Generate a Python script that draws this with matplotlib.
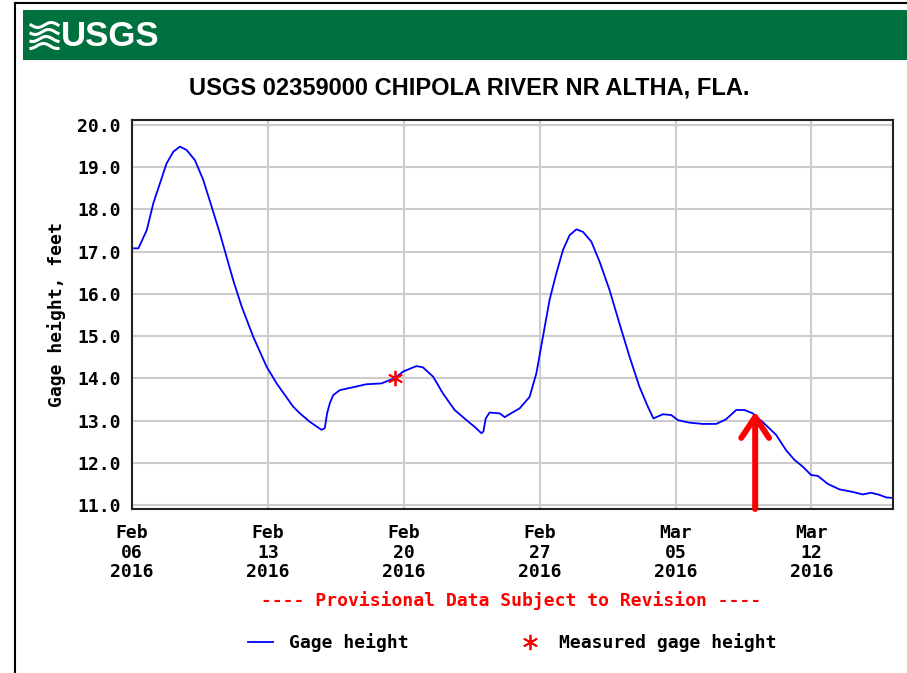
import numpy as np
import pandas as pd
import matplotlib
matplotlib.use("Agg")
import matplotlib.pyplot as plt
import matplotlib.dates as mdates
from matplotlib.lines import Line2D
from matplotlib.font_manager import FontProperties

# ---- Data ----
start = pd.Timestamp("2016-02-06")

days = [0.0, 0.33, 0.76, 1.1, 1.44, 1.78, 2.13, 2.47, 2.81, 3.24,
        3.67, 4.1, 4.53, 4.87, 5.21, 5.65, 6.24, 6.93, 7.45, 8.3,
        8.65, 9.16, 9.76, 9.93, 10.05, 10.19, 10.36, 10.7, 11.39, 12.07,
        12.85, 13.28, 13.54, 13.96, 14.65, 14.99, 15.51, 16.02, 16.62, 17.23,
        17.65, 18.0, 18.1, 18.22, 18.42, 18.94, 19.2, 19.37, 19.97, 20.48,
        20.83, 21.17, 21.51, 21.86, 22.2, 22.54, 22.89, 23.23, 23.66, 24.09,
        24.6, 25.11, 25.63, 26.14, 26.57, 26.86, 27.05, 27.35, 27.78, 28.12,
        28.72, 29.4, 30.09, 30.6, 31.12, 31.55, 31.98, 32.66, 33.18, 33.69,
        34.12, 34.55, 34.98, 35.32, 35.84, 36.44, 37.12, 37.64, 38.07, 38.5,
        38.84, 39.1]
gage_ft = [17.08, 17.08, 17.51, 18.15, 18.62, 19.09, 19.37, 19.49, 19.41, 19.17,
           18.70, 18.07, 17.43, 16.88, 16.33, 15.70, 14.99, 14.28, 13.88, 13.33,
           13.17, 12.97, 12.78, 12.82, 13.17, 13.41, 13.60, 13.72, 13.79, 13.86,
           13.88, 13.96, 14.00, 14.16, 14.29, 14.26, 14.04, 13.64, 13.25, 13.01,
           12.85, 12.70, 12.74, 13.05, 13.19, 13.17, 13.08, 13.13, 13.29, 13.56,
           14.12, 14.99, 15.86, 16.49, 17.04, 17.39, 17.53, 17.47, 17.24, 16.76,
           16.09, 15.30, 14.51, 13.80, 13.33, 13.05, 13.09, 13.15, 13.13, 13.01,
           12.95, 12.92, 12.92, 13.03, 13.25, 13.25, 13.17, 12.89, 12.66, 12.30,
           12.07, 11.91, 11.71, 11.69, 11.50, 11.37, 11.31, 11.25, 11.29, 11.24,
           11.18, 11.17]

measured_days = [13.54]
measured_ft = [14.00]

arrow_day = 32.1
arrow_ft = 13.21

tick_dates = ["2016-02-06", "2016-02-13", "2016-02-20",
              "2016-02-27", "2016-03-05", "2016-03-12"]
y_ticks = [11, 12, 13, 14, 15, 16, 17, 18, 19, 20]

t = start + pd.to_timedelta(days, unit="D")
t_meas = start + pd.to_timedelta(measured_days, unit="D")
t_arrow = start + pd.Timedelta(days=arrow_day)

# ---- Figure ----
W, H = 907, 673
fig = plt.figure(figsize=(W / 100, H / 100), dpi=100)
mono = {"family": "DejaVu Sans Mono", "weight": "bold", "size": 13}
mono_fp = FontProperties(**mono)

def fx(px):
    return px / W

def fy(py):
    return 1 - py / H

# outer frame lines (top and left)
fig.add_artist(Line2D([fx(15), 1], [fy(2.5), fy(2.5)], color="black", lw=1.5))
fig.add_artist(Line2D([fx(15), fx(15)], [fy(2.5), 0], color="black", lw=1.5))

# green USGS banner
fig.add_artist(plt.Rectangle((fx(23), fy(60)), 1 - fx(23), (60 - 10) / H,
                             facecolor="#00703f", edgecolor="none"))
fig.text(fx(61), fy(36), "USGS", color="white", fontsize=25, fontweight="bold",
         family="Liberation Sans", ha="left", va="center")
# wave mark of the logo
xs = np.linspace(31, 58, 30)
for k, off in enumerate([25, 32, 39, 46]):
    ys = off + 2.5 * np.sin((xs - 31) / 27 * 2 * np.pi + k * 0.6)
    fig.add_artist(Line2D(fx(xs), fy(ys), color="white", lw=2.2))

fig.text(fx(469), fy(88), "USGS 02359000 CHIPOLA RIVER NR ALTHA, FLA.",
         ha="center", va="center", fontsize=17, fontweight="bold",
         family="Liberation Sans")

ax = fig.add_axes([fx(132), fy(509), (893 - 132) / W, (509 - 120) / H])
ax.plot(t, gage_ft, color="#0000ff", lw=1.3, label="Gage height")
ax.plot(t_meas, measured_ft, linestyle="none", marker=(6, 2, 0), markersize=11,
        markeredgewidth=1.3, color="red", label="Measured gage height")

ax.annotate("", xy=(t_arrow, arrow_ft), xytext=(t_arrow, 10.905),
            arrowprops=dict(arrowstyle="->,head_length=0.75,head_width=0.5",
                            color="red", lw=4.3, mutation_scale=20,
                            shrinkA=0, shrinkB=0, capstyle="round"))

ax.set_xlim(start, start + pd.Timedelta(days=39.2))
ax.set_ylim(10.905, 20.12)
ax.set_yticks(y_ticks)
ax.set_yticklabels([f"{v:.1f}" for v in y_ticks], fontdict=mono)
ax.set_xticks(pd.to_datetime(tick_dates))
ax.xaxis.set_major_formatter(mdates.DateFormatter("%b\n%d\n%Y"))
for lab in ax.get_xticklabels():
    lab.set_fontproperties(mono_fp)
    lab.set_linespacing(1.1)
ax.tick_params(length=0, pad=8)
ax.tick_params(axis="x", pad=11)
ax.grid(True, color="#cccccc", lw=1.5)
ax.set_axisbelow(True)
for s in ax.spines.values():
    s.set_linewidth(1.5)
    s.set_color("#222222")

ax.set_ylabel("Gage height, feet", fontdict=mono)
ax.yaxis.set_label_coords(-0.087, 0.5)

fig.text(fx(511), fy(601), "---- Provisional Data Subject to Revision ----",
         color="red", ha="center", va="center", **mono)

fig.legend(loc="center", bbox_to_anchor=(fx(512), fy(643)), ncol=2,
           frameon=False, prop=mono_fp,
           handlelength=1.4, columnspacing=6.0, handletextpad=0.9)

fig.savefig("out.png", dpi=100)
